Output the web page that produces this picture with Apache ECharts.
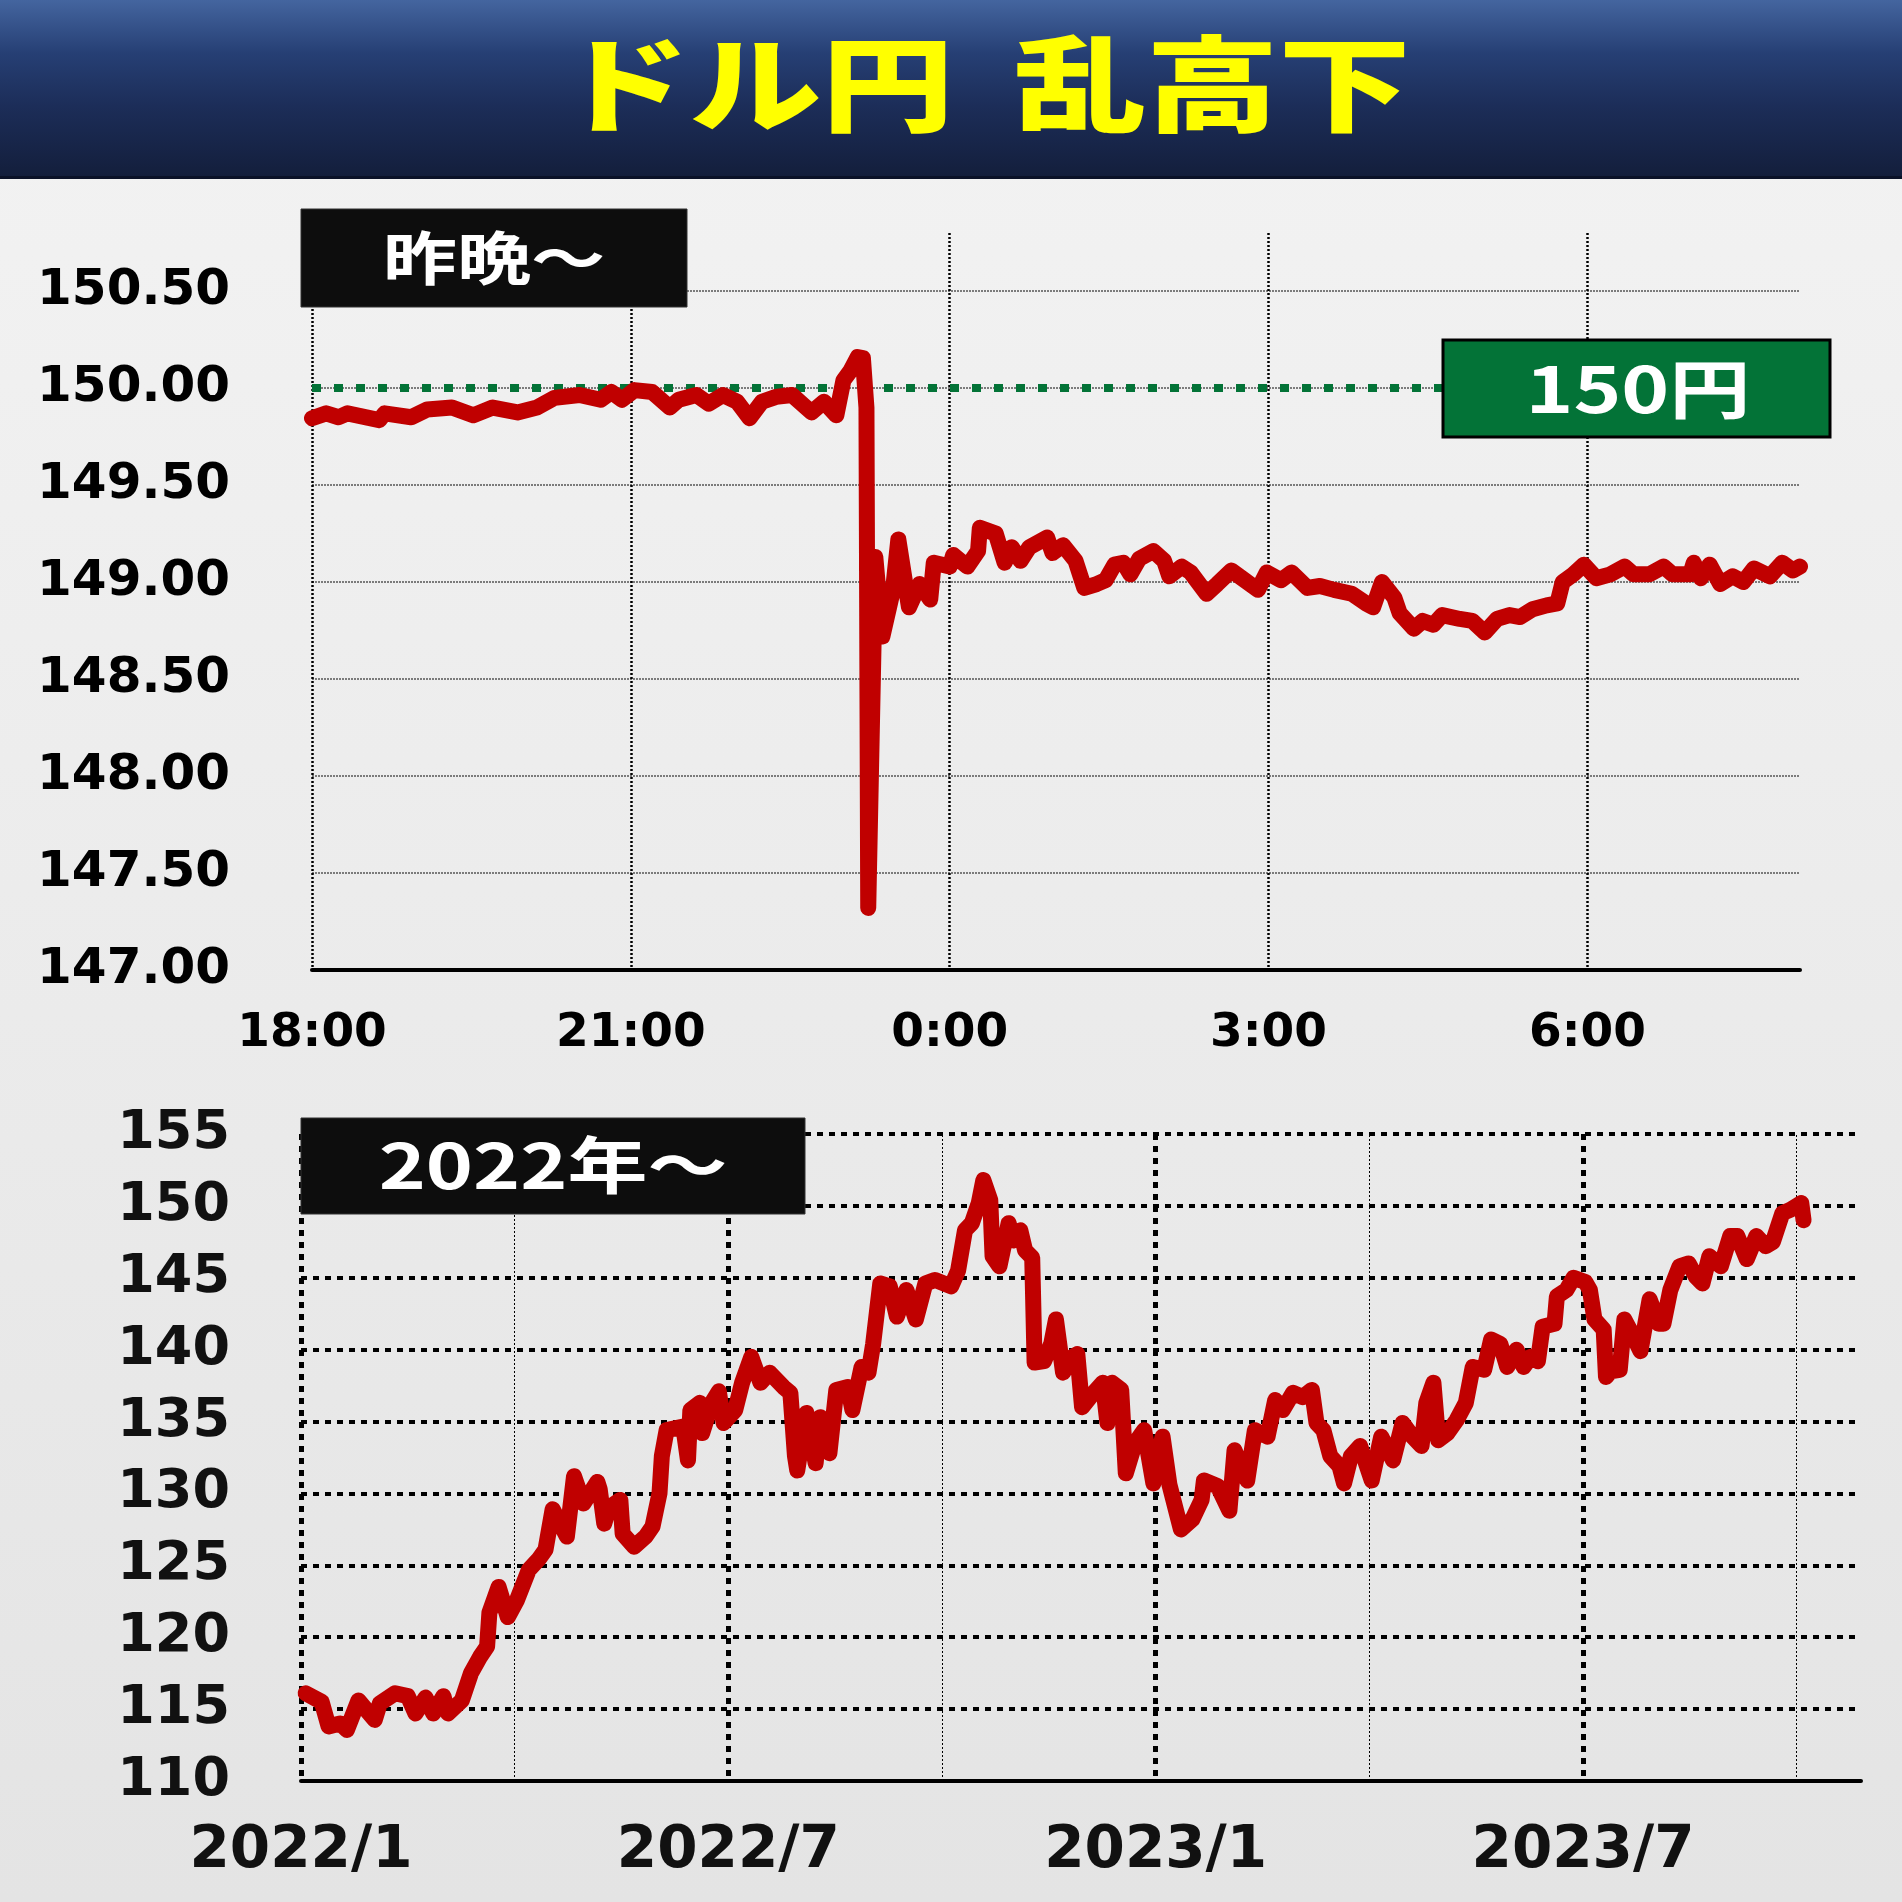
<!DOCTYPE html>
<html><head><meta charset="utf-8">
<script src="https://cdn.jsdelivr.net/npm/echarts@6/dist/echarts.min.js"></script>
<style>html,body{margin:0;padding:0;background:#eee;}#c{width:1902px;height:1902px;}</style>
</head><body><div id="c"></div>
<script>
// ---- top chart: last night (hours) ----
const nightTimes = ['18:00','18:08','18:15','18:20','18:38','18:41','18:56','19:05','19:19','19:31','19:42','19:56','20:07','20:17','20:31','20:43','20:49','20:55','21:02','21:12','21:22','21:27','21:37','21:44','21:52','22:00','22:07','22:14','22:22','22:31','22:42','22:49','22:56','23:00','23:04','23:08','23:11','23:13','23:14','23:18','23:22','23:28','23:31','23:37','23:43','23:49','23:51','0:00','0:02','0:10','0:16','0:17','0:26','0:31','0:35','0:40','0:45','0:55','0:58','1:04','1:11','1:16','1:23','1:28','1:33','1:38','1:42','1:47','1:55','2:01','2:04','2:11','2:16','2:25','2:31','2:39','2:45','2:54','2:59','3:07','3:13','3:22','3:29','3:37','3:47','3:55','3:59','4:04','4:11','4:14','4:22','4:27','4:33','4:38','4:48','4:55','5:02','5:09','5:16','5:22','5:29','5:37','5:43','5:46','5:52','5:58','6:05','6:13','6:21','6:26','6:35','6:43','6:48','6:58','7:00','7:04','7:09','7:15','7:22','7:28','7:34','7:43','7:50','7:56','8:00'];
const nightRate = [149.845,149.87,149.85,149.87,149.835,149.87,149.85,149.89,149.90,149.86,149.90,149.875,149.90,149.95,149.965,149.94,149.98,149.94,149.99,149.98,149.90,149.94,149.965,149.92,149.965,149.93,149.845,149.93,149.955,149.965,149.875,149.93,149.86,150.04,150.09,150.16,150.155,149.90,147.32,149.13,148.72,148.96,149.22,148.87,148.99,148.91,149.10,149.08,149.14,149.08,149.16,149.28,149.25,149.10,149.18,149.11,149.18,149.23,149.15,149.19,149.11,148.97,148.99,149.01,149.09,149.10,149.04,149.12,149.16,149.11,149.03,149.08,149.05,148.94,148.99,149.06,149.02,148.96,149.05,149.01,149.05,148.97,148.98,148.96,148.94,148.89,148.87,149.00,148.92,148.84,148.76,148.80,148.78,148.83,148.81,148.80,148.74,148.81,148.83,148.82,148.86,148.88,148.89,149.00,149.04,149.09,149.02,149.04,149.08,149.04,149.04,149.08,149.04,149.04,149.10,149.02,149.09,148.99,149.03,149.00,149.07,149.03,149.10,149.06,149.08];
const nightTicks = ['18:00','21:00','0:00','3:00','6:00'];
const nightStart = '18:00', nightEnd = '8:00';
const refLevel = 150;

// ---- bottom chart: since 2022 ----
const dailyDates = ['2022-01-03','2022-01-10','2022-01-13','2022-01-18','2022-01-21','2022-01-26','2022-02-02','2022-02-04','2022-02-10','2022-02-15','2022-02-18','2022-02-22','2022-02-25','2022-03-01','2022-03-03','2022-03-09','2022-03-13','2022-03-17','2022-03-20','2022-03-21','2022-03-25','2022-03-29','2022-04-02','2022-04-07','2022-04-11','2022-04-14','2022-04-17','2022-04-23','2022-04-26','2022-04-30','2022-05-06','2022-05-07','2022-05-09','2022-05-11','2022-05-16','2022-05-17','2022-05-22','2022-05-27','2022-05-30','2022-06-02','2022-06-03','2022-06-05','2022-06-12','2022-06-14','2022-06-15','2022-06-19','2022-06-20','2022-06-24','2022-06-27','2022-06-29','2022-07-04','2022-07-07','2022-07-11','2022-07-15','2022-07-19','2022-07-25','2022-07-28','2022-07-30','2022-07-31','2022-08-04','2022-08-08','2022-08-10','2022-08-14','2022-08-17','2022-08-22','2022-08-24','2022-08-28','2022-08-31','2022-09-02','2022-09-05','2022-09-09','2022-09-12','2022-09-16','2022-09-20','2022-09-24','2022-09-28','2022-10-05','2022-10-08','2022-10-11','2022-10-14','2022-10-17','2022-10-19','2022-10-22','2022-10-23','2022-10-26','2022-10-30','2022-11-01','2022-11-04','2022-11-06','2022-11-09','2022-11-10','2022-11-14','2022-11-17','2022-11-19','2022-11-22','2022-11-26','2022-11-28','2022-11-30','2022-12-05','2022-12-09','2022-12-11','2022-12-13','2022-12-17','2022-12-19','2022-12-23','2022-12-27','2022-12-31','2023-01-04','2023-01-07','2023-01-12','2023-01-17','2023-01-21','2023-01-22','2023-01-28','2023-02-02','2023-02-04','2023-02-09','2023-02-12','2023-02-17','2023-02-20','2023-02-23','2023-02-27','2023-03-03','2023-03-07','2023-03-09','2023-03-12','2023-03-15','2023-03-19','2023-03-21','2023-03-24','2023-03-28','2023-04-02','2023-04-06','2023-04-11','2023-04-15','2023-04-19','2023-04-23','2023-04-25','2023-04-28','2023-04-30','2023-05-04','2023-05-08','2023-05-12','2023-05-15','2023-05-20','2023-05-23','2023-05-27','2023-05-30','2023-06-03','2023-06-06','2023-06-09','2023-06-12','2023-06-14','2023-06-19','2023-06-20','2023-06-24','2023-06-27','2023-07-02','2023-07-04','2023-07-06','2023-07-10','2023-07-11','2023-07-13','2023-07-17','2023-07-19','2023-07-23','2023-07-26','2023-07-30','2023-08-03','2023-08-05','2023-08-08','2023-08-12','2023-08-16','2023-08-19','2023-08-22','2023-08-25','2023-08-30','2023-09-03','2023-09-06','2023-09-10','2023-09-14','2023-09-18','2023-09-21','2023-09-25','2023-09-28','2023-10-03','2023-10-04'];
const dailyRate = [116.1,115.5,113.8,114.0,113.55,115.6,114.25,115.4,116.1,115.9,114.7,115.8,114.7,115.9,114.7,115.6,117.5,118.65,119.35,121.7,123.5,121.4,122.6,124.7,125.4,126.1,128.9,127.0,131.2,129.3,130.8,130.3,127.9,129.0,129.55,127.2,126.3,127.0,127.7,130.0,132.6,134.4,134.65,132.3,135.8,136.3,134.2,136.3,137.1,134.9,135.8,137.7,139.5,137.7,138.4,137.4,137.0,132.6,131.6,135.6,132.1,135.3,132.8,137.2,137.4,135.8,138.8,138.4,140.4,144.6,144.4,142.3,144.15,142.1,144.6,144.85,144.4,145.5,148.3,148.8,150.2,151.8,150.4,146.5,145.8,148.8,147.6,148.3,146.9,146.4,139.1,139.2,140.4,142.1,138.4,139.5,139.7,136.0,137.0,137.7,134.9,137.7,137.2,131.4,133.5,134.4,130.7,133.95,130.6,127.5,128.2,129.55,130.9,130.5,128.8,133.0,130.9,134.4,133.95,136.5,135.8,137.0,136.7,137.2,134.9,134.4,132.6,131.9,130.7,132.6,133.3,130.9,133.95,132.3,134.9,134.0,133.3,136.3,137.7,133.7,134.2,135.1,136.3,138.8,138.6,140.7,140.4,138.8,140.0,138.8,139.5,139.2,141.6,141.8,143.7,144.15,145.0,144.7,144.15,142.1,141.4,138.1,138.5,138.6,142.1,140.9,139.9,143.5,141.8,141.8,144.15,145.8,146.0,145.1,144.6,146.5,145.8,147.9,147.9,146.3,147.9,147.2,147.5,149.5,149.7,150.2,149.0];
const dailyTicks = ['2022/1','2022/7','2023/1','2023/7'];
const quarterLines = ['2022-04-01','2022-10-01','2023-04-01','2023-10-01'];
const dailyStart = '2022-01-01', dailyEnd = '2023-10-29';

function hoursSince18(t){const p=t.split(':').map(Number);let h=p[0]+p[1]/60-18;if(h<0)h+=24;return h;}
function monthPos(s){const p=s.split('-').map(Number);const dim=new Date(p[0],p[1],0).getDate();return (p[0]-2022)*12+(p[1]-1)+(p[2]-1)/dim;}

const nightData = nightTimes.map((t,i)=>[hoursSince18(t), nightRate[i]]);
const dailyData = dailyDates.map((d,i)=>[monthPos(d), dailyRate[i]]);

const FONT = 'DejaVu Sans';
const CJK = '"Noto Sans CJK JP"';
const chart = echarts.init(document.getElementById('c'));
const LG = echarts.graphic.LinearGradient;

chart.setOption({
  animation:false,
  backgroundColor: new LG(0,0,0,1,[{offset:0,color:'#f3f3f3'},{offset:1,color:'#e4e4e4'}]),
  grid:[
    {left:312, right:102, top:233, height:737},
    {left:301, right:41, top:1134, height:647}
  ],
  xAxis:[
    {type:'value', gridIndex:0, min:hoursSince18(nightStart), max:hoursSince18(nightEnd), interval:3,
     axisLine:{show:true,onZero:false,lineStyle:{color:'#000',width:4}}, axisTick:{show:false},
     splitLine:{show:true,showMaxLine:false,lineStyle:{color:'#000',width:2.5,type:[2,2]}},
     axisLabel:{showMaxLabel:false, margin:40, fontSize:47, fontWeight:'bold', fontFamily:FONT, color:'#000',
       formatter:v=>nightTicks[Math.round(v/3)]||''}},
    {type:'value', gridIndex:1, min:monthPos(dailyStart), max:monthPos(dailyEnd), interval:6,
     axisLine:{show:true,onZero:false,lineStyle:{color:'#000',width:4}}, axisTick:{show:false},
     splitLine:{show:true,showMaxLine:false,lineStyle:{color:'#000',width:5,type:[6,6]}},
     axisLabel:{showMaxLabel:false, margin:42, fontSize:58, fontWeight:'bold', fontFamily:FONT, color:'#111',
       formatter:v=>dailyTicks[Math.round(v/6)]||''}}
  ],
  yAxis:[
    {type:'value', gridIndex:0, min:147, max:150.8, interval:0.5,
     axisLine:{show:false}, axisTick:{show:false},
     splitLine:{show:true,showMaxLine:false,lineStyle:{color:'#555',width:1.5,type:[2,1]}},
     axisLabel:{showMaxLabel:false, margin:82, fontSize:50, fontWeight:'bold', fontFamily:FONT, color:'#000',
       padding:[0,0,16,0], formatter:v=>v.toFixed(2)}},
    {type:'value', gridIndex:1, min:110, max:155, interval:5,
     axisLine:{show:false}, axisTick:{show:false},
     splitLine:{show:true,lineStyle:{color:'#000',width:4,type:[6,6]}},
     axisLabel:{margin:71, fontSize:54, fontWeight:'bold', fontFamily:FONT, color:'#111',
       padding:[0,0,18,0]}}
  ],
  series:[
    {type:'line', xAxisIndex:0, yAxisIndex:0, data:nightData, showSymbol:false, symbol:'none', z:5,
     lineStyle:{color:'#c00000', width:16, cap:'round', join:'round'},
     markLine:{silent:true, symbol:['none','none'], label:{show:false},
       lineStyle:{color:'#037337', width:8, type:[9,13], cap:'butt'}, data:[{yAxis:refLevel}]}},
    {type:'line', xAxisIndex:1, yAxisIndex:1, data:[], z:1, symbol:'none',
     markLine:{silent:true, symbol:['none','none'], label:{show:false},
       lineStyle:{color:'#000', width:1, type:[2,2]}, data:quarterLines.map(d=>({xAxis:monthPos(d)}))}},
    {type:'line', xAxisIndex:1, yAxisIndex:1, data:dailyData, showSymbol:false, symbol:'none', z:5,
     lineStyle:{color:'#c00000', width:16, cap:'round', join:'round'}}
  ],
  graphic:{elements:[
    {type:'rect', z:100, shape:{x:0,y:0,width:1902,height:178},
     style:{fill:new LG(0,0,0,1,[{offset:0,color:'#44659f'},{offset:0.3,color:'#263f74'},{offset:0.6,color:'#1c2d58'},{offset:1,color:'#131e3b'}])}},
    {type:'rect', z:100, shape:{x:0,y:176,width:1902,height:3}, style:{fill:'#0b1228'}},
    {type:'text', z:101, x:984, y:84, scaleX:1.27,
     style:{text:'ドル円  乱高下', fill:'#ffff00', fontSize:104, fontWeight:900, fontFamily:CJK, align:'center', verticalAlign:'middle'}},
    {type:'rect', z:100, shape:{x:301,y:209,width:386,height:98}, style:{fill:'#0d0d0d', stroke:'#333', lineWidth:1}},
    {type:'text', z:101, x:494, y:258, scaleX:1.28,
     style:{text:'昨晩～', fill:'#fff', fontSize:58, fontWeight:'bold', fontFamily:CJK, align:'center', verticalAlign:'middle'}},
    {type:'rect', z:100, shape:{x:1443,y:340,width:387,height:97}, style:{fill:'#037337', stroke:'#000', lineWidth:3}},
    {type:'text', z:101, x:1638, y:389, scaleX:1.27,
     style:{text:'150円', fill:'#fff', fontSize:64, fontWeight:'bold', fontFamily:CJK, align:'center', verticalAlign:'middle'}},
    {type:'rect', z:100, shape:{x:301,y:1118,width:504,height:96}, style:{fill:'#0d0d0d', stroke:'#333', lineWidth:1}},
    {type:'text', z:101, x:553, y:1165, scaleX:1.29,
     style:{text:'2022年～', fill:'#fff', fontSize:62, fontWeight:'bold', fontFamily:CJK, align:'center', verticalAlign:'middle'}}
  ]}
});
</script></body></html>
